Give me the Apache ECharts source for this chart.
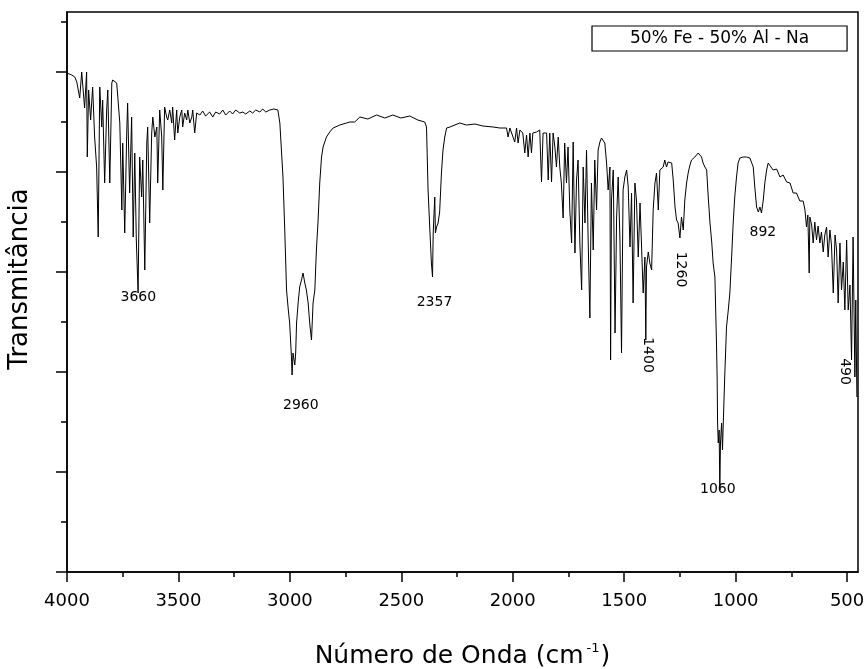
<!DOCTYPE html>
<html>
<head>
<meta charset="utf-8">
<script src="https://cdn.jsdelivr.net/npm/echarts@6/dist/echarts.min.js"></script>
<style>
html,body{margin:0;padding:0;background:#fff;}
#chart{width:865px;height:669px;}
</style>
</head>
<body>
<div id="chart"></div>
<script>
// ---- Data ----
const seriesName = '50% Fe - 50% Al - Na';
const wavenumber = [
4000,3979,3965,3956,3943,3934,3921,3912,3909,3903,3894,3885,3876,3867,3860,3853,3844,3840,3831,3822,
3817,3808,3799,3795,3777,3772,3763,3754,3750,3741,3732,3728,3719,3710,3703,3696,3689,3681,3674,3665,
3660,3651,3642,3638,3629,3620,3615,3606,3597,3593,3584,3575,3570,3562,3553,3548,3539,3530,3526,3517,
3508,3503,3494,3485,3481,3472,3463,3458,3449,3440,3436,3427,3418,3404,3391,3378,3360,3346,3333,3315,
3301,3288,3270,3257,3243,3225,3211,3198,3180,3167,3153,3135,3122,3108,3090,3072,3054,
3045,3038,3031,3023,3015,3007,3001,2993,2990,2986,2978,2974,2970,2963,2956,2948,2941,2933,2926,2918,
2911,2903,2896,2888,2881,2874,2866,2858,2851,2836,2821,2806,2776,2746,2731,2709,2686,2650,2611,2574,
2538,2502,2462,2426,2395,2387,2380,2372,2365,2360,2357,2350,2347,2342,2335,2328,2320,2313,2305,2297,
2282,2238,2208,2170,2134,2088,2058,2028,2021,2013,1991,1983,1976,1968,
1955,1946,1938,1931,1923,1916,1910,1893,1879,1871,1864,1848,1841,1834,1826,1819,1811,1804,1796,1789,
1782,1774,1767,1759,1752,1744,1736,1729,1721,1714,1707,1699,1691,1684,1676,1669,1662,1654,1647,1639,
1632,1624,1617,1609,1602,1594,1587,1579,1572,1564,1561,1557,1549,1541,1534,1527,1519,1512,1505,1497,
1489,1482,1474,1467,1460,1452,1445,1437,1429,1422,1415,1407,1403,1400,1392,1385,1377,1370,1362,1355,
1347,1340,1332,1325,1318,1310,1303,1295,1287,1280,1272,1265,1258,1250,1243,1235,1228,1220,1213,1205,
1198,1183,1168,1153,1146,1138,1130,1123,1115,1107,1101,1093,1086,1083,1081,1078,1074,1071,1068,1063,
1059,1056,1049,1041,1033,1026,1018,1011,1004,996,989,981,966,951,936,921,914,906,898,891,
884,876,869,861,854,846,832,816,801,787,771,756,742,727,712,697,689,682,676,670,
667,659,652,645,637,630,622,615,607,600,592,585,577,570,562,554,547,540,532,525,
517,510,502,495,487,480,473,465,461,456
];
const transmittance = [
99.8,99.4,99.0,98.0,94.8,100.0,92.8,100.0,83.0,96.4,90.4,97.0,87.0,81.0,67.0,97.0,89.0,94.4,77.8,92.4,
96.4,77.8,97.8,98.4,97.8,95.0,89.8,72.4,85.8,67.8,87.8,93.8,75.8,91.0,67.0,83.8,66.4,55.8,83.0,75.0,
82.4,60.4,85.8,89.0,69.8,87.8,91.0,87.0,89.0,77.8,92.4,87.0,76.4,93.0,91.0,90.4,92.4,89.8,93.0,86.4,
92.4,87.8,91.0,92.4,89.0,91.8,90.4,92.4,89.8,91.0,92.4,87.8,91.8,91.4,92.2,91.2,92.0,91.0,92.0,91.6,
92.4,91.4,92.2,91.6,92.4,91.8,92.0,91.6,92.2,91.8,92.4,92.0,92.6,92.0,92.4,92.6,92.4,
89.8,84.4,79.0,68.4,56.4,52.4,49.8,43.0,39.4,43.8,41.4,43.8,49.8,53.8,57.0,58.4,59.8,57.8,56.4,53.8,
49.8,46.4,53.8,56.4,64.4,69.8,77.8,83.0,85.0,87.0,88.0,88.8,89.4,89.8,90.0,90.0,91.0,90.6,91.4,90.8,
91.4,90.8,91.2,90.4,90.0,89.0,76.4,68.4,61.8,59.0,67.8,75.0,67.8,69.0,69.8,72.0,79.8,84.4,87.0,88.8,
89.0,89.8,89.4,89.6,89.2,89.0,88.8,88.8,87.0,88.8,86.0,88.8,85.8,88.4,
87.8,83.8,87.4,83.0,87.8,83.8,87.8,88.0,88.4,78.0,87.8,87.8,78.4,87.8,78.0,87.8,85.0,81.0,87.0,81.0,
77.8,70.8,85.8,77.8,85.0,72.4,65.8,86.0,63.8,78.4,82.4,65.8,56.4,81.0,69.8,84.4,67.0,50.8,77.8,64.4,
82.4,72.4,84.4,86.0,86.8,86.4,85.8,81.8,76.4,81.0,42.4,74.4,80.4,47.8,71.0,79.0,66.4,43.8,76.4,79.0,
80.4,77.0,65.0,75.8,53.8,77.8,74.4,63.0,73.8,65.0,55.8,63.0,46.4,61.0,64.0,61.8,60.4,72.4,77.8,79.8,
72.4,80.4,80.8,81.0,82.4,81.0,82.0,82.0,81.8,78.4,73.0,70.4,69.8,66.8,71.0,68.4,74.4,77.8,79.8,81.4,
82.4,83.0,83.8,83.0,81.8,81.0,80.4,75.0,69.8,65.8,61.8,59.0,45.8,39.0,29.8,25.8,28.4,16.4,25.8,29.8,
24.4,29.0,39.0,49.0,52.4,55.8,63.0,69.8,75.0,79.0,81.8,82.8,83.0,83.0,82.8,81.0,77.0,73.0,72.0,73.0,
71.8,74.4,77.8,80.4,81.8,81.4,80.4,80.6,79.0,79.4,78.0,77.8,75.8,75.8,74.2,74.2,72.4,69.0,71.4,59.8,
71.0,69.4,65.8,70.0,66.4,69.2,65.8,68.0,64.0,67.4,69.0,63.0,68.4,65.4,55.8,67.4,64.4,53.8,65.8,56.4,
62.0,52.4,66.4,52.4,57.4,42.4,67.0,39.0,54.4,35.0
];
// axis ticks
const xMajorTicks = [4000, 3500, 3000, 2500, 2000, 1500, 1000, 500];
const xMinorTicks = [3750, 3250, 2750, 2250, 1750, 1250, 750];
const yMajorTicks = [0, 20, 40, 60, 80, 100];
const yMinorTicks = [10, 30, 50, 70, 90, 110];
// peak annotations
const peakText = ['3660', '2960', '2357', '1400', '1260', '1060', '892', '490'];
const peakWn   = [3680, 2951, 2351, 1396, 1246, 1080, 878, 510];
const peakT    = [55.0, 33.4, 54.0, 43.4, 60.5, 16.6, 68.0, 40.1];
const peakRot  = [0, 0, 0, -90, -90, 0, 0, -90];

const FONT = 'DejaVu Sans';
const spectrum = wavenumber.map((w, i) => [w, transmittance[i]]);
const marks = peakText.map((t, i) => ({
  name: t, coord: [peakWn[i], peakT[i]],
  label: { rotate: peakRot[i] }
}));

const chart = echarts.init(document.getElementById('chart'), null, { renderer: 'canvas' });
const gridRect = { left: 67, right: 7, top: 12, bottom: 97, containLabel: false, outerBoundsMode: 'none' };
chart.setOption({
  animation: false,
  backgroundColor: '#fff',
  grid: [
    Object.assign({ show: true, borderColor: '#000', borderWidth: 1.5, backgroundColor: 'transparent' }, gridRect),
    Object.assign({ show: false }, gridRect)
  ],
  legend: {
    data: [seriesName],
    left: 592, top: 26,
    icon: 'rect', itemWidth: 0, itemHeight: 0,
    itemStyle: { opacity: 0 },
    padding: [3, 38, 2, 33],
    borderColor: '#000', borderWidth: 1.2,
    textStyle: { fontFamily: FONT, fontSize: 17, color: '#000', lineHeight: 20 },
    selectedMode: false
  },
  xAxis: [{
    gridIndex: 0, type: 'value', min: 451, max: 4000, inverse: true, position: 'bottom',
    axisLine: { show: true, onZero: false, lineStyle: { color: '#000', width: 1.5 } },
    axisTick: { show: true, customValues: xMajorTicks, length: 10, lineStyle: { color: '#000', width: 1.5 } },
    axisLabel: { show: true, customValues: xMajorTicks, formatter: v => String(v), margin: 20, fontFamily: FONT, fontSize: 18, color: '#000' },
    splitLine: { show: false },
    name: '{n|Número de Onda (cm}{s|-1}{n|)}',
    nameLocation: 'middle', nameGap: 70,
    nameTextStyle: {
      rich: {
        n: { fontFamily: FONT, fontSize: 25, color: '#000' },
        s: { fontFamily: FONT, fontSize: 13, color: '#000', verticalAlign: 'top', padding: [0, 1, 16, 3] }
      }
    }
  }, {
    gridIndex: 1, type: 'value', min: 451, max: 4000, inverse: true, position: 'bottom',
    axisLine: { show: false, onZero: false },
    axisTick: { show: true, customValues: xMinorTicks, length: 5, lineStyle: { color: '#000', width: 1.5 } },
    axisLabel: { show: false }, splitLine: { show: false }
  }],
  yAxis: [{
    gridIndex: 0, type: 'value', min: 0, max: 112, position: 'left',
    axisLine: { show: true, onZero: false, lineStyle: { color: '#000', width: 1.5 } },
    axisTick: { show: true, customValues: yMajorTicks, length: 11, lineStyle: { color: '#000', width: 1.5 } },
    axisLabel: { show: false }, splitLine: { show: false },
    name: 'Transmitância', nameLocation: 'middle', nameGap: 34, nameRotate: 90,
    nameTextStyle: { fontFamily: FONT, fontSize: 26, color: '#000', padding: [0, 0, 0, 26] }
  }, {
    gridIndex: 1, type: 'value', min: 0, max: 112, position: 'left',
    axisLine: { show: false, onZero: false },
    axisTick: { show: true, customValues: yMinorTicks, length: 6, lineStyle: { color: '#000', width: 1.5 } },
    axisLabel: { show: false }, splitLine: { show: false }
  }],
  series: [{
    name: seriesName, type: 'line', xAxisIndex: 0, yAxisIndex: 0,
    data: spectrum, showSymbol: false, symbol: 'none',
    lineStyle: { color: '#000', width: 1 }, itemStyle: { color: '#000' },
    markPoint: {
      symbol: 'rect', symbolSize: 1, itemStyle: { color: 'rgba(0,0,0,0)' },
      label: { show: true, position: 'inside', formatter: '{b}', fontFamily: FONT, fontSize: 14, color: '#000' },
      data: marks
    }
  }]
});
</script>
</body>
</html>
